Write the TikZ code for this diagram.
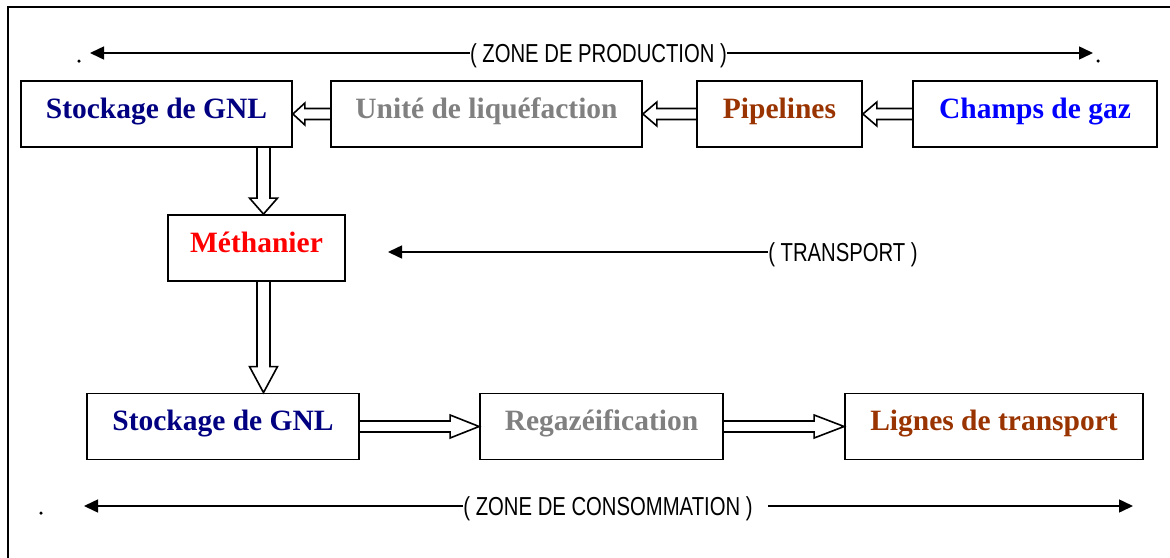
\documentclass[tikz,border=0pt]{standalone}
\usepackage{fontspec}
\setmainfont{Liberation Serif}
\newfontfamily\zonefont[FakeStretch=0.78]{Liberation Sans}
\usetikzlibrary{arrows.meta,backgrounds}

\definecolor{gnlnavy}{RGB}{0,0,128}
\definecolor{procgray}{RGB}{128,128,128}
\definecolor{pipebrown}{RGB}{153,51,0}
\definecolor{fieldblue}{RGB}{0,0,255}
\definecolor{shipred}{RGB}{255,0,0}

% Hollow block arrow, horizontal: start, tip, direction (+1 right / -1 left),
% head length, head half-width, shaft half-width
\newcommand\hollowH[6]{%
  \draw[hollow] ([yshift=#6pt]#1)
    -- ([xshift={-(#3)*(#4)*1pt},yshift=#6pt]#2)
    -- ([xshift={-(#3)*(#4)*1pt},yshift=#5pt]#2)
    -- (#2)
    -- ([xshift={-(#3)*(#4)*1pt},yshift=-#5pt]#2)
    -- ([xshift={-(#3)*(#4)*1pt},yshift=-#6pt]#2)
    -- ([yshift=-#6pt]#1);}
% Hollow block arrow, vertical (pointing down)
\newcommand\hollowV[6]{%
  \draw[hollow] ([xshift=-#6pt]#1)
    -- ([yshift={(#3)*(#4)*1pt},xshift=-#6pt]#2)
    -- ([yshift={(#3)*(#4)*1pt},xshift=-#5pt]#2)
    -- (#2)
    -- ([yshift={(#3)*(#4)*1pt},xshift=#5pt]#2)
    -- ([yshift={(#3)*(#4)*1pt},xshift=#6pt]#2)
    -- ([xshift=#6pt]#1);}

\begin{document}
\begin{tikzpicture}[x=1pt,y=-1pt,
  box/.style={draw, line width=1.8pt, inner sep=0pt, text height=37pt, text depth=29pt,
    font=\fontsize{29.5}{30}\selectfont\bfseries},
  zone/.style={inner sep=0pt, anchor=base, font=\zonefont\fontsize{26}{28}\selectfont},
  axis/.style={line width=1.5pt, -{Triangle[length=14pt,width=13pt]}},
  hollow/.style={draw, fill=white, line width=1.6pt, line join=miter},
  dot/.style={fill=black, circle, inner sep=0pt, minimum size=3.5pt},
]
\useasboundingbox (0,0) rectangle (1170,557);

% frame
\draw[line width=2pt] (1172,7) -- (8,7) -- (8,559);

% production chain
\node[box, minimum width=271pt, text=gnlnavy]   (s1) at (156.5,114) {Stockage de GNL};
\node[box, minimum width=311pt, text=procgray]  (u)  at (486.5,114) {Unité de liquéfaction};
\node[box, minimum width=165pt, text=pipebrown] (p)  at (779.5,114) {Pipelines};
\node[box, minimum width=244pt, text=fieldblue] (c)  at (1035,114)  {Champs de gaz};

% transport
\node[box, minimum width=177pt, text=shipred]   (m)  at (256.5,248) {Méthanier};

% consumption chain
\node[box, minimum width=272pt, text=gnlnavy]   (s2) at (223,426.5) {Stockage de GNL};
\node[box, minimum width=243pt, text=procgray]  (r)  at (601.5,426.5) {Regazéification};
\node[box, minimum width=298pt, text=pipebrown] (l)  at (994,426.5) {Lignes de transport};

% vertical flow line
\coordinate (vx) at (263.5,0);
\coordinate (d1a) at (s1.south -| vx);
\coordinate (d1b) at (m.north -| vx);
\coordinate (d2a) at (m.south -| vx);
\coordinate (d2b) at (s2.north -| vx);

\begin{scope}[on background layer]
  \hollowH{c.west}{p.east}{-1}{14}{12}{5.5}
  \hollowH{p.west}{u.east}{-1}{14}{12}{5.5}
  \hollowH{u.west}{s1.east}{-1}{12}{11}{5.5}
  \hollowV{d1a}{d1b}{1}{16}{14}{6.5}
  \hollowV{d2a}{d2b}{1}{26}{14}{6.5}
  \hollowH{s2.east}{r.west}{1}{29}{11.5}{5.5}
  \hollowH{r.east}{l.west}{1}{30}{11.5}{5.5}
\end{scope}

% zone labels and their axes
\node[zone] (zp) at (598.5,62.5) {( ZONE DE PRODUCTION )};
\coordinate (zpl) at (90,53);
\coordinate (zpr) at (1093,53);
\draw[axis] (zp.west |- zpl) -- (zpl);
\draw[axis] (zp.east |- zpr) -- (zpr);
\node[dot] (dp1) at (79,61) {};
\node[dot] (dp2) at (1098,61) {};

\node[zone] (zt) at (843,261.5) {( TRANSPORT )};
\coordinate (ztl) at (388,252);
\draw[axis] (zt.west |- ztl) -- (ztl);

\node[zone] (zc) at (608,515) {( ZONE DE CONSOMMATION )};
\coordinate (zcl) at (84,506);
\coordinate (zcs) at (768,506);
\coordinate (zcr) at (1133,506);
\draw[axis] (zc.west |- zcl) -- (zcl);
\draw[axis] (zcs) -- (zcr);
\node[dot] (dc1) at (41,513) {};
\end{tikzpicture}
\end{document}
